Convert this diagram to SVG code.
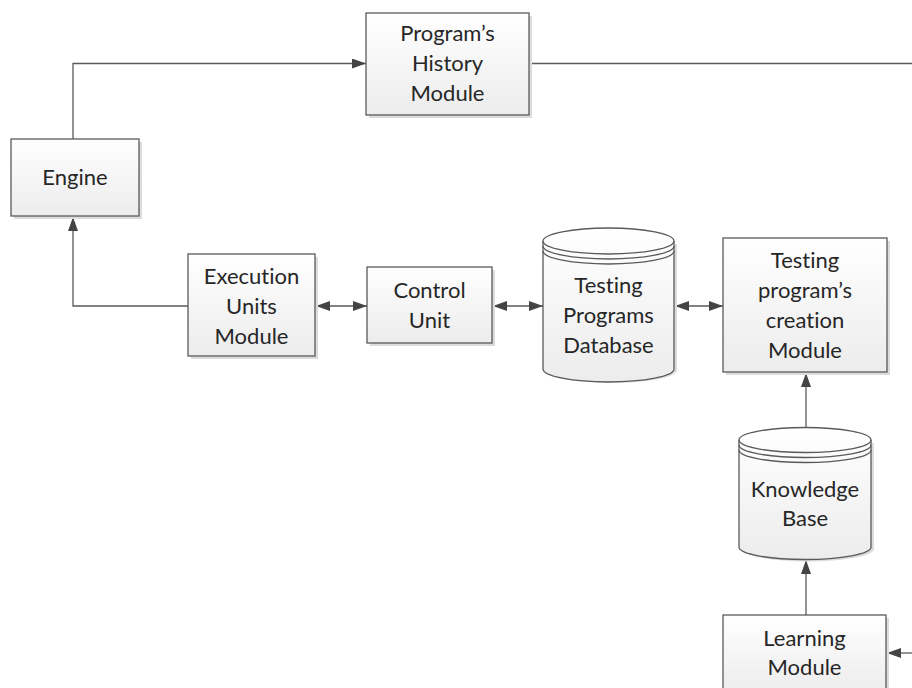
<svg xmlns="http://www.w3.org/2000/svg" width="912" height="688" viewBox="0 0 912 688">
<style>
.box{fill:url(#g);stroke:#5a5a5a;stroke-width:1.3}
.shadow{fill:#dcdcdc}
.db{fill:url(#g);stroke:#5a5a5a;stroke-width:1.3}
.dbl{fill:none;stroke:#5a5a5a;stroke-width:1.3}
.t{font-family:Lato,"Open Sans","Liberation Sans",sans-serif;font-size:22px;fill:#262626;text-anchor:middle;font-variant-ligatures:none}
.c{fill:none;stroke:#5a5a5a;stroke-width:1.3}
</style>
<defs>
<linearGradient id="g" x1="0" y1="0" x2="0" y2="1">
<stop offset="0" stop-color="#ffffff"/>
<stop offset="1" stop-color="#ececec"/>
</linearGradient>
<marker id="a" viewBox="0 0 14 10" refX="14" refY="5" markerWidth="14" markerHeight="10" markerUnits="userSpaceOnUse" orient="auto-start-reverse">
<path d="M0,0 L14,5 L0,10 Z" fill="#444"/>
</marker>
</defs>
<g id="connectors">
<path class="c" d="M73,139 V63.5 H366" marker-end="url(#a)"/>
<path class="c" d="M529,63.5 H912"/>
<path class="c" d="M188,306 H73 V217" marker-end="url(#a)"/>
<path class="c" d="M316,306 H367" marker-start="url(#a)" marker-end="url(#a)"/>
<path class="c" d="M493,306 H543" marker-start="url(#a)" marker-end="url(#a)"/>
<path class="c" d="M675,306 H723" marker-start="url(#a)" marker-end="url(#a)"/>
<path class="c" d="M806,427 V373" marker-end="url(#a)"/>
<path class="c" d="M806,615 V560" marker-end="url(#a)"/>
<path class="c" d="M912,653 H887" marker-end="url(#a)"/>
</g>
<g id="history">
<rect class="shadow" x="369" y="16" width="163" height="102"/>
<rect class="box" x="366" y="13" width="163" height="102"/>
<text class="t" x="447.5" y="41">Program’s</text>
<text class="t" x="447.5" y="71">History</text>
<text class="t" x="447.5" y="101">Module</text>
</g>
<g id="engine">
<rect class="shadow" x="14" y="142" width="128" height="77"/>
<rect class="box" x="11" y="139" width="128" height="77"/>
<text class="t" x="75" y="185">Engine</text>
</g>
<g id="execution">
<rect class="shadow" x="191" y="257" width="127" height="102"/>
<rect class="box" x="188" y="254" width="127" height="102"/>
<text class="t" x="251.5" y="284">Execution</text>
<text class="t" x="251.5" y="314">Units</text>
<text class="t" x="251.5" y="344">Module</text>
</g>
<g id="control">
<rect class="shadow" x="370" y="270" width="125" height="76"/>
<rect class="box" x="367" y="267" width="125" height="76"/>
<text class="t" x="429.5" y="298">Control</text>
<text class="t" x="429.5" y="328">Unit</text>
</g>
<g id="database">
<path class="shadow" d="M546,244 V370 A65.5,13 0 0 0 677,370 V244 Z"/>
<path class="db" d="M543,241 V369 A65.5,13 0 0 0 674,369 V241 A65.5,13 0 0 0 543,241 Z"/>
<path class="dbl" d="M543,241 A65.5,13 0 0 0 674,241"/>
<path class="dbl" d="M543,246 A65.5,13 0 0 0 674,246"/>
<path class="dbl" d="M543,251 A65.5,13 0 0 0 674,251"/>
<text class="t" x="608.5" y="293">Testing</text>
<text class="t" x="608.5" y="323">Programs</text>
<text class="t" x="608.5" y="353">Database</text>
</g>
<g id="creation">
<rect class="shadow" x="726" y="241" width="164" height="134"/>
<rect class="box" x="723" y="238" width="164" height="134"/>
<text class="t" x="805" y="268">Testing</text>
<text class="t" x="805" y="298">program’s</text>
<text class="t" x="805" y="328">creation</text>
<text class="t" x="805" y="358">Module</text>
</g>
<g id="knowledge">
<path class="shadow" d="M742,443 V549 A66,12.5 0 0 0 874,549 V443 Z"/>
<path class="db" d="M739,440 V547 A66,12.5 0 0 0 871,547 V440 A66,12.5 0 0 0 739,440 Z"/>
<path class="dbl" d="M739,440 A66,12.5 0 0 0 871,440"/>
<path class="dbl" d="M739,445 A66,12.5 0 0 0 871,445"/>
<path class="dbl" d="M739,450 A66,12.5 0 0 0 871,450"/>
<text class="t" x="805" y="497">Knowledge</text>
<text class="t" x="805" y="526">Base</text>
</g>
<g id="learning">
<rect class="shadow" x="726" y="618" width="163" height="80"/>
<rect class="box" x="723" y="615" width="163" height="80"/>
<text class="t" x="804.5" y="646">Learning</text>
<text class="t" x="804.5" y="675">Module</text>
</g>
</svg>
